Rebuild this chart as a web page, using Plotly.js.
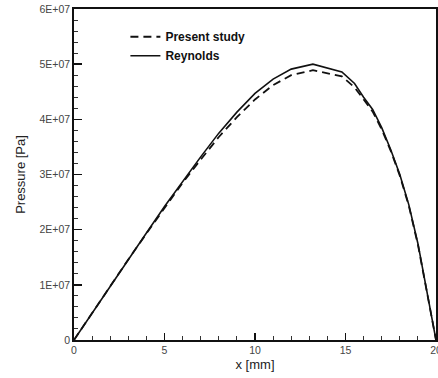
<!DOCTYPE html>
<html>
<head>
<meta charset="utf-8">
<script src="https://cdn.plot.ly/plotly-3.0.1.min.js"></script>
<style>
html,body{margin:0;padding:0;background:#fff;}
#chart{width:438px;height:378px;}
</style>
</head>
<body>
<div id="chart"></div>
<script>
// x positions along the bearing [mm]
const xMm = [0, 1, 2, 3, 4, 5, 6, 7, 8, 9, 10, 11, 12, 13.2, 14.8, 15.5, 16, 16.5, 17, 17.5, 18, 18.5, 19, 19.5, 20];
// Present study pressure [Pa]
const presentStudy = [0, 0.49e7, 0.98e7, 1.46e7, 1.93e7, 2.40e7, 2.85e7, 3.27e7, 3.68e7, 4.04e7, 4.36e7, 4.62e7, 4.80e7, 4.89e7, 4.78e7, 4.58e7, 4.36e7, 4.14e7, 3.82e7, 3.43e7, 2.98e7, 2.43e7, 1.73e7, 0.90e7, 0];
// Reynolds solution pressure [Pa]
const reynolds = [0, 0.49e7, 0.98e7, 1.46e7, 1.94e7, 2.42e7, 2.88e7, 3.32e7, 3.75e7, 4.13e7, 4.47e7, 4.73e7, 4.91e7, 5.00e7, 4.86e7, 4.65e7, 4.40e7, 4.18e7, 3.85e7, 3.45e7, 3.00e7, 2.45e7, 1.75e7, 0.90e7, 0];

const yTickVals = [0, 1e7, 2e7, 3e7, 4e7, 5e7, 6e7];
const yTickText = ['0', '1E+07', '2E+07', '3E+07', '4E+07', '5E+07', '6E+07'];
const xTickVals = [0, 5, 10, 15, 20];
const xTickText = ['0', '5', '10', '15', '20'];

const traces = [
  {x: xMm, y: presentStudy, name: 'Present study', mode: 'lines',
   line: {color: '#111', width: 1.8, dash: '8px,5px'}},
  {x: xMm, y: reynolds, name: 'Reynolds', mode: 'lines',
   line: {color: '#111', width: 1.6}}
];

const tickFont = {family: 'Liberation Sans, Arial, sans-serif', size: 10.5, color: '#444'};

const layout = {
  width: 438, height: 378,
  margin: {l: 74, r: 2, t: 9, b: 38},
  paper_bgcolor: '#fff', plot_bgcolor: '#fff',
  showlegend: true,
  legend: {x: 0.142, y: 0.96, xanchor: 'left', yanchor: 'top',
           bgcolor: 'rgba(0,0,0,0)', borderwidth: 0, tracegroupgap: 0,
           font: {family: 'Liberation Sans, Arial, sans-serif', size: 12, color: '#111', weight: 'bold'}},
  xaxis: {
    range: [0, 20], tickvals: xTickVals, ticktext: xTickText,
    ticks: 'inside', ticklen: 7, tickwidth: 1.5, tickcolor: '#111',
    ticklabeloverflow: 'allow',
    minor: {ticks: 'inside', ticklen: 4, tickwidth: 1, tickcolor: '#333', dtick: 1, showgrid: false},
    showline: true, linecolor: '#111', linewidth: 1.8, mirror: true,
    showgrid: false, zeroline: false, tickfont: tickFont,
    title: {text: 'x [mm]', font: {family: 'Liberation Sans, Arial, sans-serif', size: 13, color: '#222'}, standoff: 4}
  },
  yaxis: {
    range: [0, 6e7], tickvals: yTickVals, ticktext: yTickText,
    ticks: 'inside', ticklen: 8, tickwidth: 1.5, tickcolor: '#111',
    minor: {ticks: 'inside', ticklen: 4, tickwidth: 1, tickcolor: '#333', dtick: 2e6, showgrid: false},
    showline: true, linecolor: '#111', linewidth: 1.8, mirror: true,
    showgrid: false, zeroline: false, tickfont: tickFont,
    title: {text: 'Pressure [Pa]', font: {family: 'Liberation Sans, Arial, sans-serif', size: 13, color: '#222'}, standoff: 11}
  }
};

Plotly.newPlot('chart', traces, layout, {staticPlot: true, displayModeBar: false});
</script>
</body>
</html>
